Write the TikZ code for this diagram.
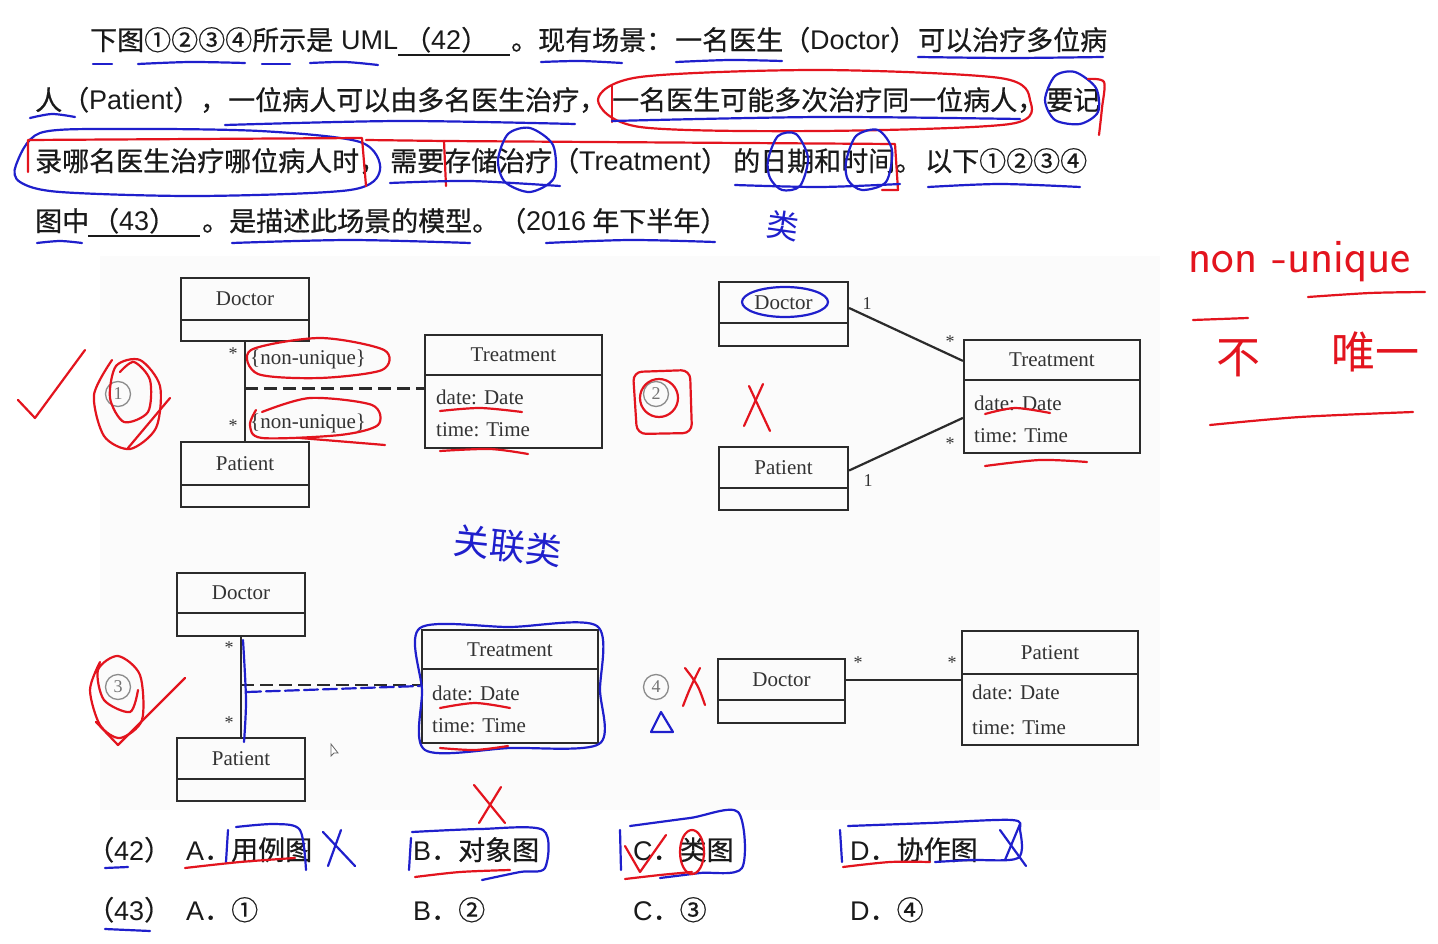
\documentclass[tikz,border=0pt]{standalone}
\usepackage{fontspec}
\setmainfont{Liberation Serif}
\newfontfamily\cjk[FakeBold=0.6]{Noto Sans CJK SC}
\newfontfamily\cjkhand{Noto Sans CJK SC}
\newfontfamily\lsans{Liberation Sans}
\usetikzlibrary{calc}
\definecolor{penred}{HTML}{E3141E}
\definecolor{penblue}{HTML}{1F1FCC}
\definecolor{txt}{HTML}{1A1A1A}
\definecolor{boxc}{HTML}{2B2B2B}
\newcommand{\umlcls}[7]{%
  \node[cls, minimum width={#4-#2}, minimum height={#5-#3}] (#1) at ({(#2+#4)/2},{(#3+#5)/2}) {};
  \draw[boxline] (#2,#6) -- (#4,#6);
  \node[clsname] (#1-t) at ({(#2+#4)/2},{(#3+#6)/2}) {#7};
}
\begin{document}
\begin{tikzpicture}[x=1pt,y=-1pt,
  q/.style={anchor=base west, inner sep=0, text=txt, font=\cjk\fontsize{27}{30}\selectfont},
  cls/.style={draw=boxc, line width=2.2pt, inner sep=0},
  boxline/.style={draw=boxc, line width=2.2pt},
  clsname/.style={inner sep=0, text=black!80, font=\fontsize{21}{24}\selectfont},
  attr/.style={anchor=west, inner sep=0, text=black!80, font=\fontsize{21}{24}\selectfont},
  mult/.style={inner sep=0, text=black!80, font=\fontsize{18}{20}\selectfont},
  circnum/.style={circle, draw=black!45, line width=1.3pt, minimum size=25pt, inner sep=0, text=black!55, font=\fontsize{18}{20}\selectfont},
  redpen/.style={draw=penred, line width=2.2pt, line cap=round, line join=round},
  bluepen/.style={draw=penblue, line width=2.2pt, line cap=round, line join=round},
  hand/.style={inner sep=0},
]
\useasboundingbox (0,0) rectangle (1438,944);
\fill[white] (0,0) rectangle (1438,944);
\fill[black!1.5] (100,256) rectangle (1160,810);

% ---------- question text ----------
\node[q] (l1a) at (90,50) {下图①②③④所示是};
\node[q] (l1a2) at (341,50) {{\lsans UML}};
\node[q] (l1b) at (404,50) {（{\lsans 42}）};
\draw[txt, line width=1.3pt] (398,55) -- (510,55);
\node[q] (l1c) at (511,50) {。现有场景：};
\node[q] (l1d) at (675,50) {一名医生（{\lsans Doctor}）};
\node[q] (l1e) at (918,50) {可以治疗多位病};
\node[q] (l2a) at (35,110) {人（{\lsans Patient}），};
\node[q] (l2b) at (228,110) {一位病人可以由多名医生治疗，};
\node[q] (l2c) at (612,110) {一名医生可能多次治疗同一位病人，};
\node[q] (l2d) at (1046,110) {要记};
\node[q] (l3a) at (35,171) {录哪名医生治疗哪位病人时，};
\node[q] (l3b) at (390,171) {需要存储治疗（{\lsans Treatment}）};
\node[q] (l3c) at (733,171) {的日期和时间。};
\node[q] (l3d) at (925,171) {以下①②③④};
\node[q] (l4a) at (35,231) {图中};
\node[q] (l4b) at (92,231) {（{\lsans 43}）};
\draw[txt, line width=1.3pt] (88,236) -- (200,236);
\node[q] (l4c) at (202,231) {。是描述此场景的模型。};
\node[q] (l4d) at (499,231) {（{\lsans 2016} 年下半年）};

% ---------- answers ----------
\node[q] (a42) at (87,860) {（{\lsans 42}）};
\node[q] (a42a) at (186,860) {{\lsans A}．用例图};
\node[q] (a42b) at (413,860) {{\lsans B}．对象图};
\node[q] (a42c) at (633,860) {{\lsans C}．类图};
\node[q] (a42d) at (850,860) {{\lsans D}．协作图};
\node[q] (a43) at (87,920) {（{\lsans 43}）};
\node[q] (a43a) at (186,920) {{\lsans A}．①};
\node[q] (a43b) at (413,920) {{\lsans B}．②};
\node[q] (a43c) at (633,920) {{\lsans C}．③};
\node[q] (a43d) at (850,920) {{\lsans D}．④};

% ---------- diagram 1 ----------
\umlcls{d1}{181}{278}{309}{341}{320}{Doctor}
\umlcls{p1}{181}{442}{309}{507}{485}{Patient}
\umlcls{t1}{425}{335}{602}{448}{375}{Treatment}
\node[attr] (t1a) at (436,397) {date: Date};
\node[attr] (t1b) at (436,430) {time: Time};
\draw[boxline] (d1.south) -- (p1.north);
\coordinate (m1) at ($(d1.south)!0.47!(p1.north)$);
\draw[boxline, dash pattern=on 13pt off 6pt] (m1) -- (m1 -| t1.west);
\node[mult] (s1a) at (233,354) {*};
\node[mult] (s1b) at (233,426) {*};
\node[attr] (n1a) at (250,359) {\{non-unique\}};
\node[attr] (n1b) at (250,423) {\{non-unique\}};
\node[circnum] (c1) at (118,394) {1};

% ---------- diagram 2 ----------
\umlcls{d2}{719}{282}{848}{346}{323}{Doctor}
\umlcls{p2}{719}{447}{848}{510}{488}{Patient}
\umlcls{t2}{964}{340}{1140}{453}{380}{Treatment}
\node[attr] (t2a) at (974,403) {date: Date};
\node[attr] (t2b) at (974,436) {time: Time};
\draw[boxline] ([yshift=6pt]d2.east) -- ([yshift=-22pt]t2.north west);
\draw[boxline] ([yshift=8pt]p2.east) -- ([yshift=-79pt]t2.north west);
\node[mult] (s2a) at (867,304) {1};
\node[mult] (s2b) at (950,342) {*};
\node[mult] (s2c) at (950,444) {*};
\node[mult] (s2d) at (868,481) {1};
\node[circnum] (c2) at (656,394) {2};

% ---------- diagram 3 ----------
\umlcls{d3}{177}{573}{305}{636}{613}{Doctor}
\umlcls{p3}{177}{738}{305}{801}{779}{Patient}
\umlcls{t3}{422}{630}{598}{743}{669}{Treatment}
\node[attr] (t3a) at (432,693) {date: Date};
\node[attr] (t3b) at (432,726) {time: Time};
\draw[boxline] (d3.south) -- (p3.north);
\coordinate (m3) at ($(d3.south)!0.48!(p3.north)$);
\draw[boxline, dash pattern=on 13pt off 6pt] (m3) -- (m3 -| t3.west);
\node[mult] (s3a) at (229,648) {*};
\node[mult] (s3b) at (229,723) {*};
\node[circnum] (c3) at (118,687) {3};

% ---------- diagram 4 ----------
\umlcls{d4}{718}{659}{845}{723}{700}{Doctor}
\umlcls{p4}{962}{631}{1138}{745}{674}{Patient}
\node[attr] (t4a) at (972,692) {date: Date};
\node[attr] (t4b) at (972,728) {time: Time};
\coordinate (e4) at ([yshift=11pt]d4.east);
\draw[boxline] (e4) -- (e4 -| p4.west);
\node[mult] (s4a) at (858,663) {*};
\node[mult] (s4b) at (952,663) {*};
\node[circnum] (c4) at (656,687) {4};

% cursor
\draw[black!60, line width=0.8pt, fill=white] (331,744) -- (331,756) -- (334,753) -- (338,753) -- cycle;

% ---------- annotations: text area ----------
\draw[bluepen] (93,64) -- (112,64);
\draw[bluepen] plot[smooth] coordinates {(138,64) (190,62) (245,63)};
\draw[bluepen] (262,64) -- (290,64);
\draw[bluepen] plot[smooth] coordinates {(310,63) (345,62) (378,65)};
\draw[bluepen] plot[smooth] coordinates {(541,62) (580,61) (622,63)};
\draw[bluepen] plot[smooth] coordinates {(676,62) (730,60) (782,61)};
\draw[bluepen] plot[smooth] coordinates {(918,57) (1010,58) (1103,57)};

\draw[bluepen] plot[smooth] coordinates {(30,118) (52,114) (75,117)};
\draw[bluepen] plot[smooth] coordinates {(225,125) (400,121) (575,124)};
\draw[redpen] plot[smooth cycle] coordinates {(598,100) (640,77) (820,70) (1000,78) (1030,100) (1010,124) (820,131) (640,127)};
\draw[redpen] (612,86) -- (612,122);
\draw[bluepen] plot[smooth] coordinates {(612,121) (820,117) (1020,119)};
\draw[bluepen] plot[smooth cycle] coordinates {(1045,100) (1055,76) (1075,72) (1096,88) (1098,112) (1080,124) (1055,120)};
\draw[redpen] plot[smooth] coordinates {(1088,79) (1104,82) (1102,108) (1099,135)};

\draw[bluepen] plot[smooth cycle] coordinates {(16,165) (40,133) (120,129) (260,131) (360,142) (380,170) (350,190) (200,196) (60,192) (20,182)};
\draw[redpen] (28,172) -- (28,140) -- (362,138) -- (366,186);
\draw[redpen] (446,186) -- (444,141) -- (895,144) -- (898,190) -- (882,190);
\draw[redpen] (366,140) -- (444,141);
\draw[bluepen] plot[smooth] coordinates {(390,183) (470,181) (560,186)};
\draw[bluepen] plot[smooth cycle] coordinates {(498,160) (508,134) (530,128) (553,145) (554,178) (530,192) (505,182)};
\draw[bluepen] plot[smooth cycle] coordinates {(768,160) (778,136) (796,134) (808,158) (800,186) (782,190) (770,178)};
\draw[bluepen] plot[smooth cycle] coordinates {(846,162) (856,136) (878,130) (892,150) (886,182) (862,190) (848,180)};
\draw[bluepen] plot[smooth] coordinates {(735,185) (820,187) (900,184)};
\draw[bluepen] plot[smooth] coordinates {(928,187) (1000,184) (1080,187)};

\draw[bluepen] plot[smooth] coordinates {(37,243) (60,241) (82,243)};
\draw[bluepen] plot[smooth] coordinates {(232,243) (350,240) (470,243)};
\draw[bluepen] plot[smooth] coordinates {(546,243) (630,240) (715,242)};
\node[hand, text=penblue, font=\cjkhand\fontsize{32}{32}\selectfont, rotate=-8] (h1) at (783,226) {类};

% ---------- annotations: diagrams ----------
\draw[redpen] (18,400) -- (35,418) -- (85,350);
\draw[redpen] plot[smooth] coordinates {(112,360) (94,395) (104,436) (130,449) (156,428) (160,386) (140,360) (116,366) (110,398) (124,422) (148,412) (150,380) (134,362) (120,372)};
\draw[redpen] (128,448) -- (170,398);
\draw[redpen] plot[smooth cycle] coordinates {(251,350) (320,338) (384,350) (382,370) (320,378) (258,374)};
\draw[redpen] plot[smooth] coordinates {(262,412) (310,398) (372,405) (378,425) (340,435) (262,438) (250,425) (256,410)};
\draw[redpen] (300,438) -- (385,445);
\draw[redpen] plot[smooth] coordinates {(440,411) (480,408) (522,412)};
\draw[redpen] plot[smooth] coordinates {(440,451) (490,449) (528,454)};

\draw[redpen, rounded corners=9pt] (633,372) -- (690,370) -- (692,433) -- (637,434) -- cycle;
\draw[redpen] (659,398) circle[radius=19];
\draw[redpen] (749,386) -- (770,431);
\draw[redpen] (763,384) -- (744,426);
\draw[bluepen] (785,302) ellipse[x radius=43, y radius=15];
\draw[redpen] plot[smooth] coordinates {(985,414) (1015,408) (1050,413)};
\draw[redpen] plot[smooth] coordinates {(985,466) (1040,460) (1087,462)};

\node[hand, text=penred, font=\fontsize{48}{48}\selectfont\sffamily, anchor=west] (h2) at (1188,262) {non -unique};
\draw[redpen] (1193,320) -- (1248,318);
\draw[redpen] plot[smooth] coordinates {(1308,297) (1370,293) (1425,292)};
\node[hand, text=penred, font=\cjkhand\fontsize{44}{44}\selectfont] (h3) at (1238,358) {不};
\node[hand, text=penred, font=\cjkhand\fontsize{44}{44}\selectfont] (h4) at (1375,352) {唯一};
\draw[redpen] plot[smooth] coordinates {(1210,425) (1300,417) (1413,412)};

\node[hand, text=penblue, font=\cjkhand\fontsize{36}{36}\selectfont, rotate=-6] (h5) at (508,546) {关联类};

\draw[redpen] plot[smooth] coordinates {(100,662) (90,690) (100,725) (120,738) (142,720) (140,675) (118,656) (98,670) (104,700) (130,712) (138,690)};
\draw[redpen] (96,722) -- (118,745) -- (185,678);
\draw[bluepen] plot[smooth] coordinates {(243,640) (246,700) (244,742)};
\draw[bluepen, dash pattern=on 14pt off 5pt] (247,692) -- (420,686);
\draw[bluepen] plot[smooth cycle] coordinates {(420,628) (510,627) (597,626) (600,690) (599,744) (510,748) (425,750) (422,690)};
\draw[redpen] plot[smooth] coordinates {(440,708) (475,703) (510,708)};
\draw[redpen] plot[smooth] coordinates {(440,748) (475,750) (508,746)};
\draw[redpen] (474,785) -- (505,823);
\draw[redpen] (501,787) -- (479,823);
\draw[redpen] (685,668) .. controls (698,685) .. (705,705);
\draw[redpen] (700,668) .. controls (690,688) .. (683,706);
\draw[bluepen] (661,712) -- (651,732) -- (673,732) -- cycle;

% ---------- annotations: answers ----------
\draw[bluepen] (105,868) -- (128,867);
\draw[bluepen] (105,929) -- (150,931);
\draw[bluepen] (228,830) -- (226,862);
\draw[bluepen] plot[smooth] coordinates {(236,827) (275,824) (300,830) (306,870)};
\draw[redpen] plot[smooth] coordinates {(185,868) (240,862) (295,858)};
\draw[bluepen] (323,832) -- (355,866);
\draw[bluepen] (341,830) -- (328,866);
\draw[bluepen] plot[smooth] coordinates {(411,838) (409,870)};
\draw[bluepen] plot[smooth] coordinates {(412,832) (480,829) (543,830) (545,868) (520,872) (482,880)};
\draw[redpen] plot[smooth] coordinates {(415,877) (460,872) (510,870)};
\draw[bluepen] (620,830) -- (621,870);
\draw[bluepen] plot[smooth] coordinates {(630,826) (690,818) (738,812) (742,868) (700,873) (660,878)};
\draw[redpen] (625,846) -- (640,872) -- (666,835);
\draw[redpen] (692,852) ellipse[x radius=12, y radius=22];
\draw[redpen] plot[smooth] coordinates {(625,879) (660,875) (692,872)};
\draw[bluepen] (840,830) -- (842,862);
\draw[bluepen] plot[smooth] coordinates {(848,826) (930,823) (1012,820) (1020,830) (1018,858) (970,860) (935,862)};
\draw[redpen] plot[smooth] coordinates {(843,867) (890,862) (930,862)};
\draw[bluepen] (1000,830) -- (1026,866);
\draw[bluepen] (1020,824) -- (1005,860);
\end{tikzpicture}
\end{document}
